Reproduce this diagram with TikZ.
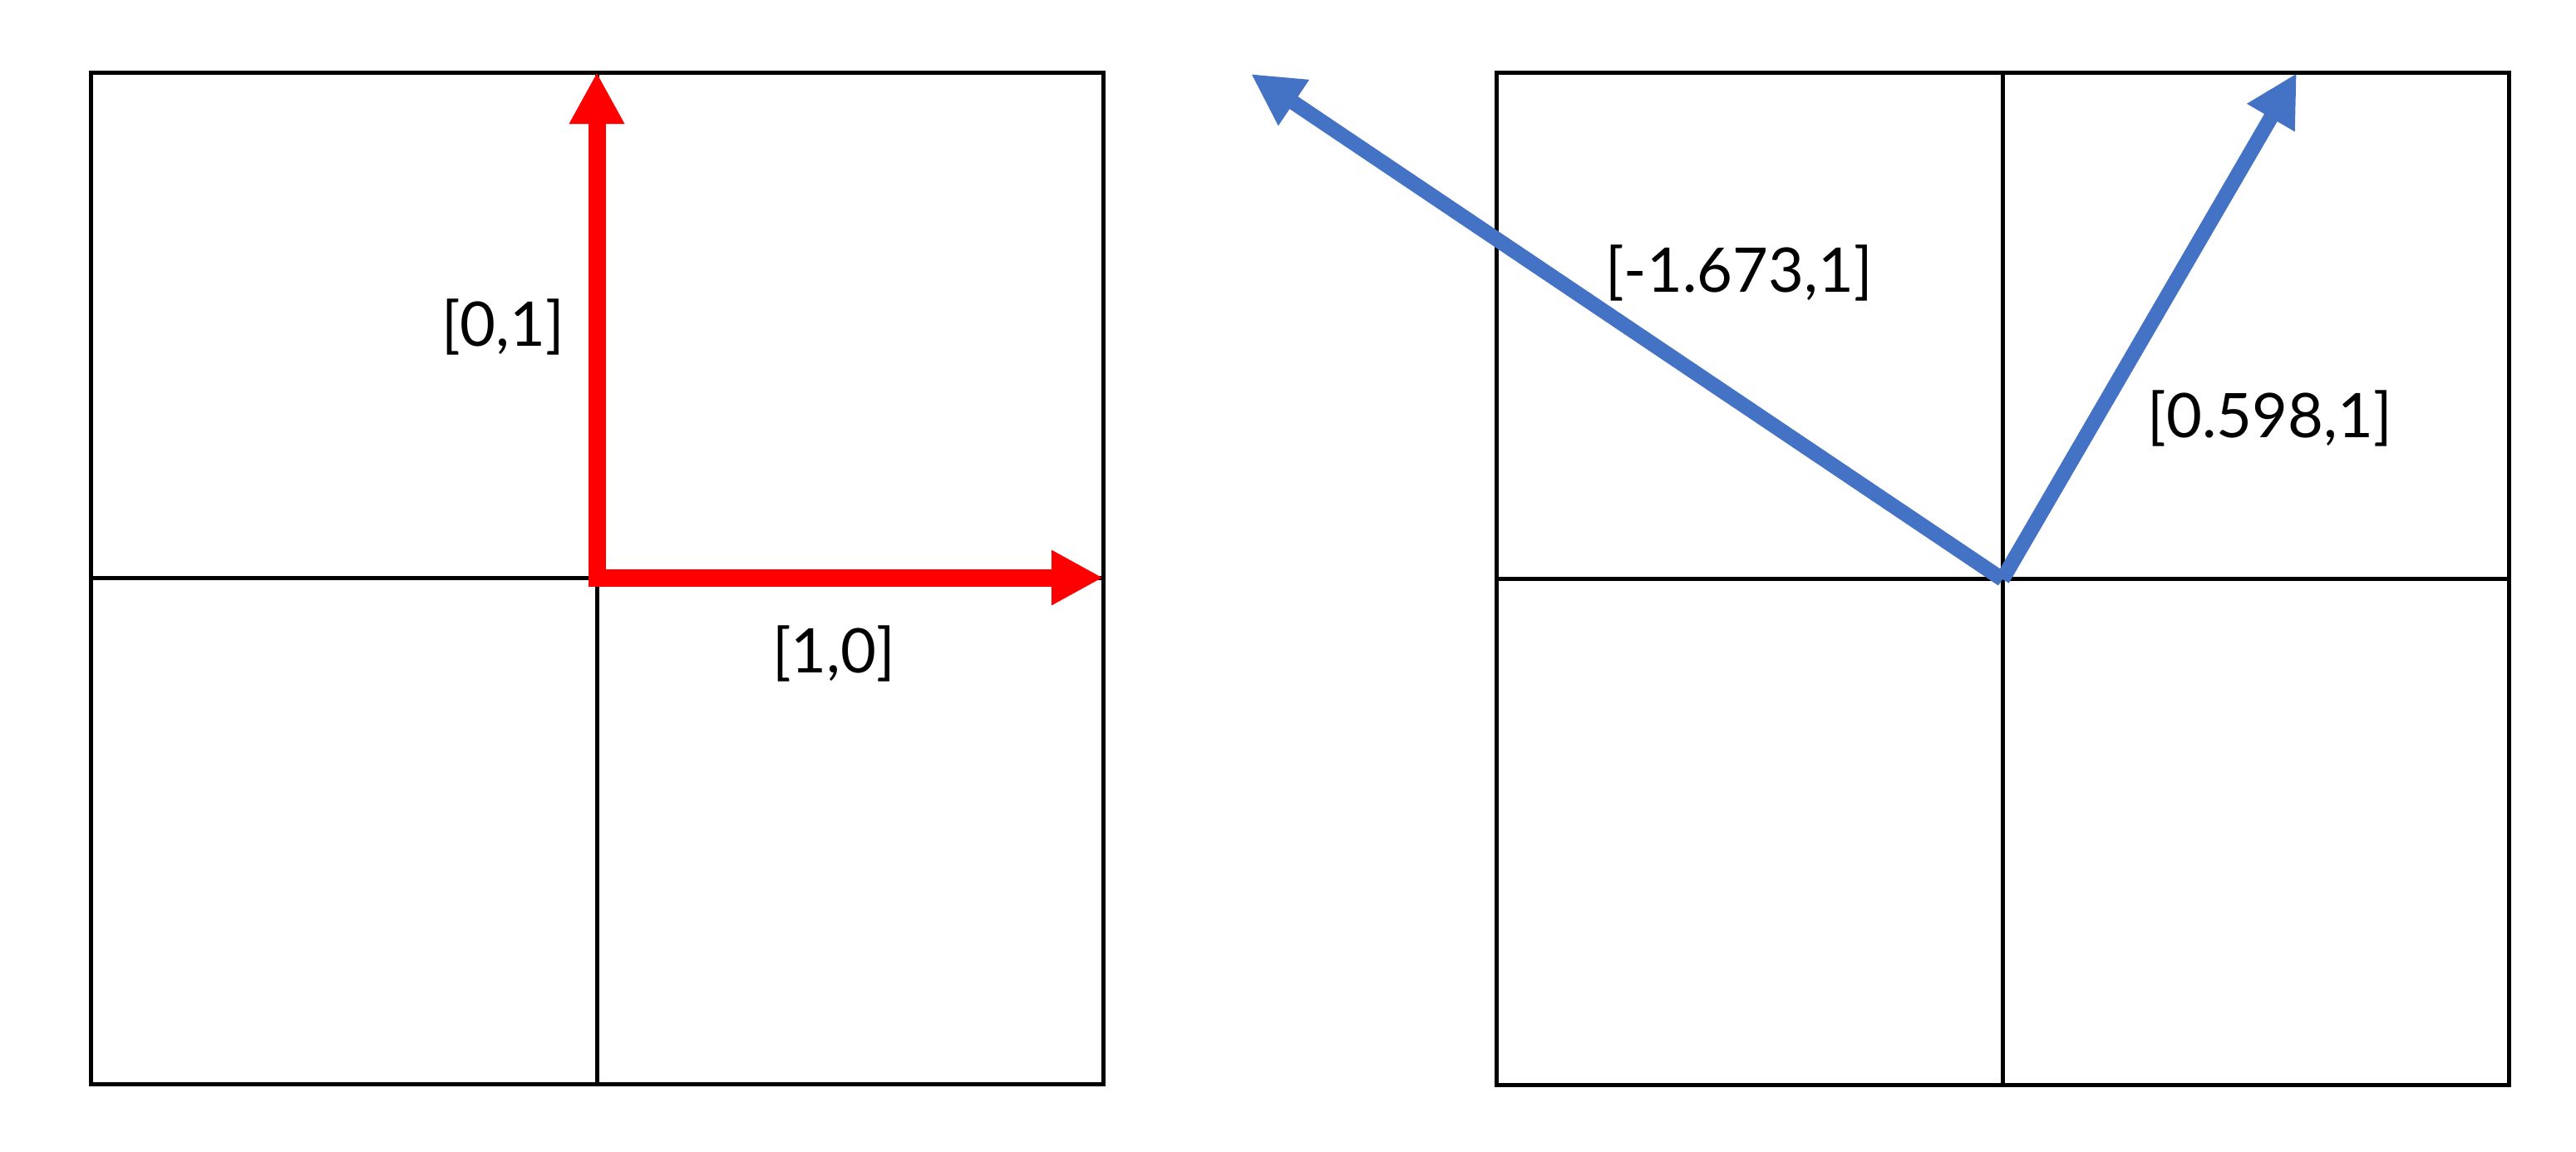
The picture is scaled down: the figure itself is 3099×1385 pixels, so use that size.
\documentclass[tikz,border=0pt]{standalone}
\usepackage{fontspec}
\setmainfont{Lato}
\usetikzlibrary{arrows.meta}
\definecolor{vecred}{HTML}{FF0000}
\definecolor{vecblue}{HTML}{4472C4}
\tikzset{
  cellline/.style={draw=black, line width=1.25pt},
  redvec/.style={draw=vecred, line width=5.25pt, line join=miter,
    {Triangle[length=15.5pt,width=15.5pt]}-{Triangle[length=15.5pt,width=15.5pt]}},
  bluevec/.style={draw=vecblue, line width=4.5pt,
    -{Triangle[length=15.5pt,width=15.5pt]}},
  veclabel/.style={font=\fontsize{18.5}{22}\selectfont, inner sep=0pt}
}
\begin{document}
\begin{tikzpicture}[x=0.25pt, y=-0.25pt]
\useasboundingbox (0,0) rectangle (3099,1385);
\draw[cellline] (109,87) rectangle (1327,1304) (109,695) -- (1327,695) (718,87) -- (718,1304);
\draw[cellline] (1800,87) rectangle (3018,1305) (1800,696) -- (3018,696) (2409,87) -- (2409,1305);
\coordinate (lo) at (718,695);
\coordinate (lx) at (1327,695);
\coordinate (ly) at (718,87);
\draw[redvec] (ly) -- (lo) -- (lx);
\coordinate (ro) at (2409,697);
\coordinate (ra) at (1505,89);
\coordinate (rb) at (2763,88);
\draw[bluevec] (ro) -- (ra);
\draw[bluevec] (ro) -- (rb);
\node[veclabel] (ly label) at (605,393) {[0,1]};
\node[veclabel] (lx label) at (1003,786) {[1,0]};
\node[veclabel] (ra label) at (2092,328) {[-1.673,1]};
\node[veclabel] (rb label) at (2731,503) {[0.598,1]};
\end{tikzpicture}
\end{document}
